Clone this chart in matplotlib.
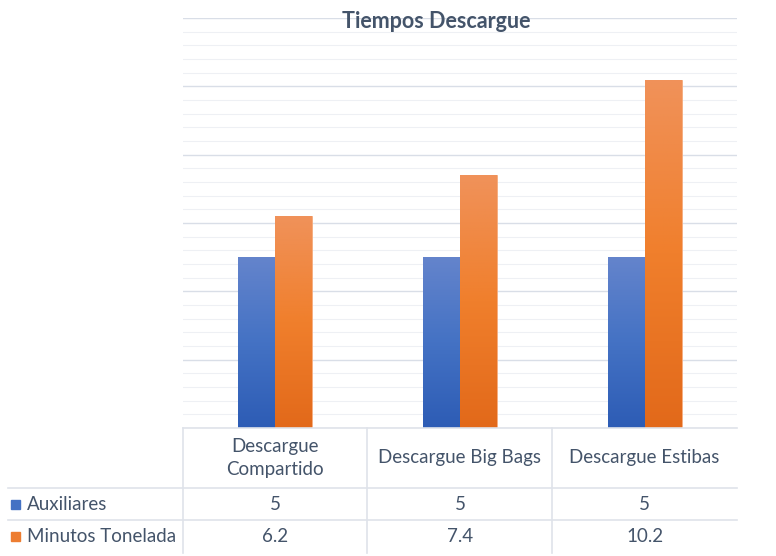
import numpy as np
import matplotlib.pyplot as plt
from matplotlib.colors import LinearSegmentedColormap

# datos del grafico
categorias = ['Descargue\nCompartido', 'Descargue Big Bags', 'Descargue Estibas']
series = ['Auxiliares', 'Minutos Tonelada']
auxiliares = [5, 5, 5]
minutos_tonelada = [6.2, 7.4, 10.2]
etiquetas_aux = ['5', '5', '5']
etiquetas_min = ['6.2', '7.4', '10.2']

plt.rcParams['font.family'] = ['Lato', 'DejaVu Sans']
texto = '#44546a'

W, H = 776, 556
fig = plt.figure(figsize=(W / 100, H / 100), dpi=100)
ax = fig.add_axes([183 / W, 1 - 428 / H, (737 - 183) / W, (428 - 18) / H])

x = np.arange(len(categorias))
ancho = 0.2

# degradados tipo Excel
grad_azul = LinearSegmentedColormap.from_list('az', ['#2d5cb5', '#4472c4', '#6484cc'])
grad_naranja = LinearSegmentedColormap.from_list('na', ['#e2691a', '#f07f2c', '#f0925a'])

b1 = ax.bar(x - ancho / 2, auxiliares, ancho, color='#4472c4', zorder=3)
b2 = ax.bar(x + ancho / 2, minutos_tonelada, ancho, color='#ed7d31', zorder=3)

grad = np.linspace(0, 1, 256).reshape(-1, 1)
for barras, cmap, borde in [(b1, grad_azul, '#7f9bd6'), (b2, grad_naranja, '#f5ad80')]:
    for b in barras:
        x0, y0 = b.get_x(), b.get_y()
        w, h = b.get_width(), b.get_height()
        im = ax.imshow(grad, cmap=cmap, origin='lower', aspect='auto',
                       extent=[x0, x0 + w, y0, y0 + h], zorder=4)
        im.set_clip_path(b)
        b.set_edgecolor(borde)
        b.set_linewidth(0.6)

ax.set_xlim(-0.5, len(categorias) - 0.5)
ax.set_ylim(0, 12)
ax.set_yticks(np.arange(0, 12.01, 2))
ax.set_yticks(np.arange(0, 12.01, 0.4), minor=True)
ax.grid(True, axis='y', which='major', color='#d9dee7', linewidth=1.0, zorder=0)
ax.grid(True, axis='y', which='minor', color='#eef0f4', linewidth=0.8, zorder=0)
ax.tick_params(axis='both', which='both', length=0, labelleft=False, labelbottom=False)
for s in ax.spines.values():
    s.set_visible(False)

fig.text(436 / W, 1 - 22 / H, 'Tiempos Descargue', ha='center', va='center',
         fontsize=15.5, fontweight='bold', color=texto)

# tabla de datos debajo del eje
linea = '#dfe3ea'
def fy(py):
    return 1 - py / H

col_x = [183, 367, 552]
fig.add_artist(plt.Line2D([183 / W, 737 / W], [fy(428), fy(428)], color=linea, lw=1.2))
for py in [488, 520]:
    fig.add_artist(plt.Line2D([8 / W, 737 / W], [fy(py), fy(py)], color=linea, lw=1.2))
for px in col_x:
    fig.add_artist(plt.Line2D([px / W, px / W], [fy(428), fy(553)], color=linea, lw=1.2))

fs = 13.5
trans = ax.get_xaxis_transform()
for i, cat in enumerate(categorias):
    ax.text(x[i], (458 - 428) / -410, cat, transform=trans, ha='center', va='center',
            fontsize=fs, color=texto, linespacing=1.4, clip_on=False)
    ax.text(x[i], (504 - 428) / -410, etiquetas_aux[i], transform=trans, ha='center',
            va='center', fontsize=fs, color=texto, clip_on=False)
    ax.text(x[i], (536 - 428) / -410, etiquetas_min[i], transform=trans, ha='center',
            va='center', fontsize=fs, color=texto, clip_on=False)

for nombre, color, py in [(series[0], '#4472c4', 504), (series[1], '#ed7d31', 536)]:
    fig.patches.append(plt.Rectangle((11 / W, fy(py) - 4.5 / H), 9 / W, 9 / H,
                                     color=color, transform=fig.transFigure, figure=fig))
    fig.text(27 / W, fy(py), nombre, ha='left', va='center', fontsize=fs, color=texto)

fig.savefig('out.png', dpi=100)
